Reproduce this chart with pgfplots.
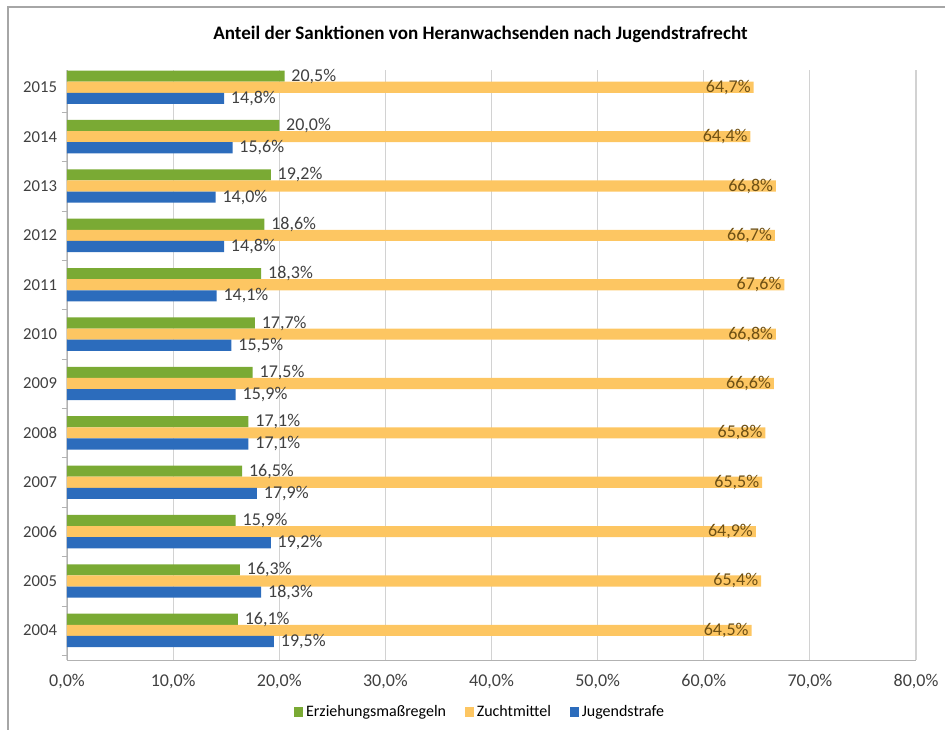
\documentclass[border=0pt]{standalone}
\usepackage{pgfplots}
\pgfplotsset{compat=1.18}
\usepackage{fontspec}
\setmainfont{Carlito}
\definecolor{cgreen}{RGB}{122,170,52}
\definecolor{corange}{RGB}{253,198,98}
\definecolor{cblue}{RGB}{44,108,188}
\definecolor{lbl}{RGB}{64,64,64}
\definecolor{lblo}{RGB}{110,80,20}
\begin{document}
\begin{tikzpicture}
\begin{axis}[
  name=ax,
  scale only axis,
  width=636.75pt, height=442.5pt,
  xbar, bar width=0.225,
  xmin=0, xmax=80, ymin=2003.4, ymax=2015.35,
  xtick={0,10,...,80},
  ytick={2004,...,2015},
  yticklabel style={/pgf/number format/1000 sep={}},
  minor ytick={2003.5,2004.5,...,2015.5},
  major tick length=0pt, minor tick length=4pt, tick align=outside,
  minor tick style={gray!60},
  xmajorgrids, grid style={gray!35, line width=0.8pt},
  axis x line*=bottom, axis y line*=left,
  axis line style={gray!60},
  x axis line style={-}, y axis line style={-},
  /pgf/number format/assume math mode=true,
  xticklabel={\pgfmathprintnumber[fixed,fixed zerofill,precision=1,use comma]{\tick}\%},
  ticklabel style={text=lbl},
  xticklabel style={font=\fontsize{13.5}{15}\selectfont, yshift=-7pt},
  yticklabel style={font=\fontsize{12.5}{14}\selectfont, xshift=-4pt},
  title={\textbf{Anteil der Sanktionen von Heranwachsenden nach Jugendstrafrecht}},
  title style={font=\fontsize{14.3}{17}\selectfont, at={(0.487,1)}, anchor=south, yshift=11pt},
  point meta=x,
  nodes near coords={\pgfmathprintnumber[fixed,fixed zerofill,precision=1,use comma]{\pgfplotspointmeta}\%},
  every node near coord/.append style={font=\fontsize{13.5}{15}\selectfont, text=lbl, inner sep=2pt, xshift=3pt},
  legend columns=-1,
  legend style={draw=none, at={(0.487,0)}, anchor=center, yshift=-39pt, font=\fontsize{12}{14}\selectfont,
    /tikz/every even column/.append style={column sep=12pt}},
  legend image code/.code={\fill[#1] (0pt,-3.5pt) rectangle (7pt,3.5pt);},
]
\addplot[fill=cgreen, draw=none, bar shift=0.225] coordinates {
(20.5,2015) (20.0,2014) (19.2,2013) (18.6,2012) (18.3,2011) (17.7,2010)
(17.5,2009) (17.1,2008) (16.5,2007) (15.9,2006) (16.3,2005) (16.1,2004)};
\addlegendentry{Erziehungsmaßregeln}
\addplot[fill=corange, draw=none, bar shift=0,
  every node near coord/.append style={anchor=east, text=lblo, xshift=-3pt}] coordinates {
(64.7,2015) (64.4,2014) (66.8,2013) (66.7,2012) (67.6,2011) (66.8,2010)
(66.6,2009) (65.8,2008) (65.5,2007) (64.9,2006) (65.4,2005) (64.5,2004)};
\addlegendentry{Zuchtmittel}
\addplot[fill=cblue, draw=none, bar shift=-0.225] coordinates {
(14.8,2015) (15.6,2014) (14.0,2013) (14.8,2012) (14.1,2011) (15.5,2010)
(15.9,2009) (17.1,2008) (17.9,2007) (19.2,2006) (18.3,2005) (19.5,2004)};
\addlegendentry{Jugendstrafe}
\end{axis}
\path[use as bounding box] ([shift={(-50.25pt,-52.5pt)}]ax.south west) rectangle ([shift={(658.5pt,495pt)}]ax.south west);
\draw[gray!70, line width=1pt] ([shift={(-44.25pt,-52.5pt)}]ax.south west) -- ([shift={(-44.25pt,489.75pt)}]ax.south west) -- ([shift={(658.5pt,489.75pt)}]ax.south west);
\end{tikzpicture}
\end{document}
